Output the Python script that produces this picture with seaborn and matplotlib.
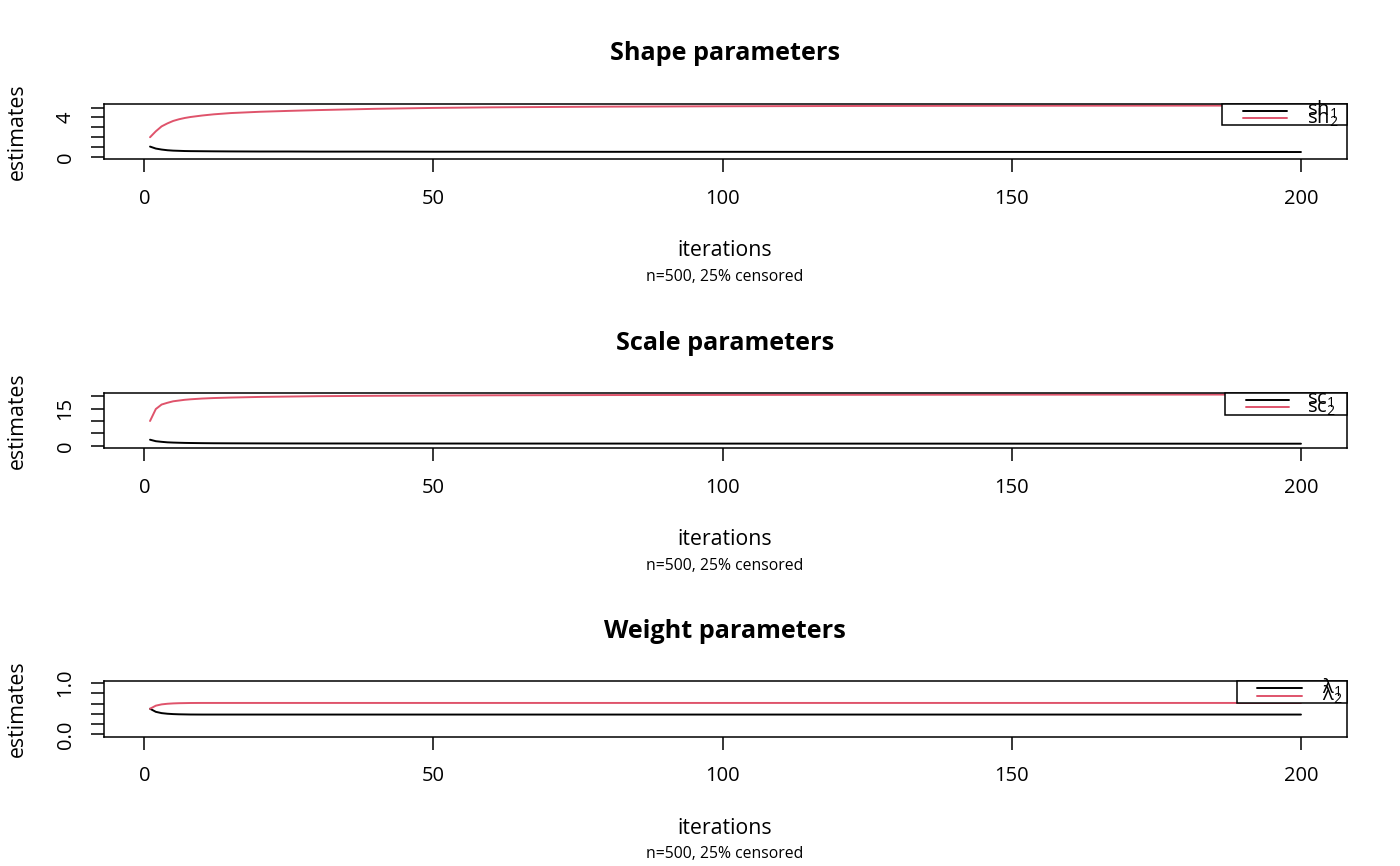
import numpy as np
import pandas as pd
import matplotlib
matplotlib.use("Agg")
import matplotlib.pyplot as plt
from matplotlib.patches import Rectangle
import seaborn as sns

sns.set_theme(style="white")
plt.rcParams['font.family'] = ['Open Sans', 'DejaVu Sans']
plt.rcParams['text.color'] = 'black'
plt.rcParams['mathtext.fontset'] = 'custom'
plt.rcParams['mathtext.rm'] = 'Open Sans'
plt.rcParams['mathtext.it'] = 'Open Sans:italic'
plt.rcParams['mathtext.bf'] = 'Open Sans:bold'

iterations = [1, 2, 3, 4, 5, 6, 7, 8, 10, 12, 15, 20, 25, 30, 40, 50, 60, 80, 100, 125, 150, 175, 200]

sh1 = [1.05, 0.85, 0.75, 0.68, 0.64, 0.62, 0.60, 0.59, 0.58, 0.57, 0.56, 0.55, 0.55, 0.54,
       0.54, 0.53, 0.53, 0.52, 0.52, 0.51, 0.51, 0.50, 0.50]
sh2 = [2.00, 2.60, 3.10, 3.40, 3.65, 3.82, 3.95, 4.05, 4.20, 4.32, 4.45, 4.58, 4.67, 4.75,
       4.88, 4.97, 5.03, 5.10, 5.14, 5.17, 5.19, 5.20, 5.21]

sc1 = [2.50, 1.90, 1.65, 1.45, 1.35, 1.28, 1.22, 1.18, 1.12, 1.08, 1.05, 1.02, 1.00, 0.99,
       0.98, 0.97, 0.96, 0.95, 0.94, 0.93, 0.92, 0.91, 0.90]
sc2 = [10.0, 14.8, 16.6, 17.3, 17.9, 18.2, 18.5, 18.7, 19.0, 19.2, 19.4, 19.65, 19.8, 19.95,
       20.1, 20.2, 20.3, 20.4, 20.45, 20.5, 20.55, 20.58, 20.6]

lambda1 = [0.500, 0.440, 0.415, 0.403, 0.396, 0.392, 0.390, 0.388, 0.387, 0.387, 0.387, 0.387,
           0.387, 0.387, 0.387, 0.387, 0.387, 0.387, 0.387, 0.387, 0.387, 0.387, 0.387]
lambda2 = [0.500, 0.560, 0.585, 0.597, 0.604, 0.608, 0.610, 0.612, 0.613, 0.613, 0.613, 0.613,
           0.613, 0.613, 0.613, 0.613, 0.613, 0.613, 0.613, 0.613, 0.613, 0.613, 0.613]

titles = ['Shape parameters', 'Scale parameters', 'Weight parameters']
series = [(sh1, sh2), (sc1, sc2), (lambda1, lambda2)]
labels = [('sh$_1$', 'sh$_2$'), ('sc$_1$', 'sc$_2$'), ('λ$_1$', 'λ$_2$')]
fixed_ylim = [None, None, (0, 1)]
y_ticks = [[0, 1, 2, 3, 4, 5], [0, 5, 10, 15, 20], [0.0, 0.2, 0.4, 0.6, 0.8, 1.0]]
y_tick_labels = [['0', '', '', '', '4', ''], ['0', '', '', '15', ''], ['0.0', '', '', '', '', '1.0']]
x_ticks = [0, 50, 100, 150, 200]
x_label = 'iterations'
y_label = 'estimates'
subtitle = 'n=500, 25% censored'

colors = ['black', '#DF536B']

W, H = 1400, 866
AX_L, AX_R, AX_H = 104, 1347, 55.5
AX_W = AX_R - AX_L
panel_tops = [103.5, 392.5, 681]
# legend geometry in pixels relative to the top-right corner of each panel
legend_box = [(125, 21.5), (122, 22), (110, 22)]
legend_line = [(-104, -60), (-101, -58), (-90, -45)]
legend_text_x = [-40, -40, -25]

fig = plt.figure(figsize=(W / 100, H / 100), dpi=100)
fs = 14.5


def px(dx, dy):
    return 1 + dx / AX_W, 1 + dy / AX_H


for k in range(3):
    top = panel_tops[k]
    ax = fig.add_axes([AX_L / W, (H - top - AX_H) / H, AX_W / W, AX_H / H])
    a, b = series[k]
    df = pd.DataFrame({
        'iteration': iterations * 2,
        'estimate': list(a) + list(b),
        'series': [labels[k][0]] * len(a) + [labels[k][1]] * len(b),
    })
    sns.lineplot(data=df, x='iteration', y='estimate', hue='series', palette=colors,
                 estimator=None, legend=False, linewidth=1.4, ax=ax)

    xr = max(iterations) - min(iterations)
    ax.set_xlim(min(iterations) - 0.04 * xr, max(iterations) + 0.04 * xr)
    lo, hi = fixed_ylim[k] if fixed_ylim[k] else (0, max(max(a), max(b)))
    ax.set_ylim(lo - 0.04 * (hi - lo), hi + 0.04 * (hi - lo))

    ax.set_xticks(x_ticks)
    ax.set_xticklabels([str(t) for t in x_ticks])
    ax.set_yticks(y_ticks[k])
    ax.set_yticklabels(y_tick_labels[k])
    ax.set_xlabel('')
    ax.set_ylabel('')
    ax.tick_params(axis='both', direction='out', length=9.4, width=1.1, color='black',
                   labelsize=fs, labelcolor='black', bottom=True, left=True)
    ax.tick_params(axis='x', pad=12)
    ax.tick_params(axis='y', pad=11)
    plt.setp(ax.get_yticklabels(), rotation=90, va='center', ha='right')
    for sp in ax.spines.values():
        sp.set_color('black')
        sp.set_linewidth(1.1)
    ax.grid(False)

    # legend, drawn the way the reference shows it (text spilling over the box)
    bw, bh = legend_box[k]
    x0, y0 = px(-bw, -bh)
    ax.add_patch(Rectangle((x0, y0), bw / AX_W, bh / AX_H, transform=ax.transAxes,
                           fill=True, facecolor='white', edgecolor='black', linewidth=1.1,
                           clip_on=False, zorder=5))
    for j, (dy_line, dy_text) in enumerate([(-7, -12.5), (-14.5, -19.8)]):
        l0, l1 = legend_line[k]
        (xa, ya), (xb, _) = px(l0, dy_line), px(l1, dy_line)
        ax.plot([xa, xb], [ya, ya], color=colors[j], linewidth=1.4,
                transform=ax.transAxes, clip_on=False, zorder=6)
        tx, ty = px(legend_text_x[k], dy_text)
        ax.text(tx, ty, labels[k][j], transform=ax.transAxes, fontsize=fs,
                color='black', ha='left', va='baseline', zorder=7, clip_on=False)

    off = top - 103.5
    fig.text(725 / W, 1 - (60.5 + off) / H, titles[k], ha='center', va='baseline',
             fontsize=18.2, fontweight='bold', color='black')
    fig.text(725 / W, 1 - (256 + off) / H, x_label, ha='center', va='baseline',
             fontsize=15.3, color='black')
    fig.text(725 / W, 1 - (280.5 + off) / H, subtitle, ha='center', va='baseline',
             fontsize=11.3, color='black')
    fig.text(17 / W, 1 - (top + AX_H / 2) / H, y_label, ha='center', va='center',
             rotation=90, fontsize=15.3, color='black')

fig.savefig('out.png', dpi=100, facecolor='white')
